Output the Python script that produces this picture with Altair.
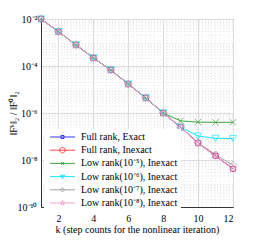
import math
import altair as alt
import pandas as pd

# ---------------- data ----------------
k = [1, 2, 3, 4, 5, 6, 7, 8, 9, 10, 11, 12]
full_exact   = [1.0e-2, 2.9e-3, 7.9e-4, 2.2e-4, 6.8e-5, 1.7e-5, 4.4e-6, 1.0e-6, 2.5e-7, 5.3e-8, 1.5e-8, 4.2e-9]
full_inexact = [1.0e-2, 2.9e-3, 7.9e-4, 2.2e-4, 6.8e-5, 1.7e-5, 4.4e-6, 1.0e-6, 2.5e-7, 5.3e-8, 1.5e-8, 4.2e-9]
low_5        = [1.0e-2, 2.9e-3, 7.9e-4, 2.2e-4, 6.8e-5, 1.7e-5, 4.4e-6, 1.0e-6, 4.6e-7, 4.1e-7, 4.0e-7, 4.0e-7]
low_6        = [1.0e-2, 2.9e-3, 7.9e-4, 2.2e-4, 6.8e-5, 1.7e-5, 4.4e-6, 1.0e-6, 2.5e-7, 1.05e-7, 8.3e-8, 8.2e-8]
low_7        = [1.0e-2, 2.9e-3, 7.9e-4, 2.2e-4, 6.8e-5, 1.7e-5, 4.4e-6, 1.0e-6, 2.5e-7, 5.4e-8, 1.7e-8, 6.0e-9]
low_8        = [1.0e-2, 2.9e-3, 7.9e-4, 2.2e-4, 6.8e-5, 1.7e-5, 4.4e-6, 1.0e-6, 2.5e-7, 5.3e-8, 1.5e-8, 4.3e-9]

series_names = [
    "Full rank, Exact",
    "Full rank, Inexact",
    "Low rank(10⁻⁵), Inexact",
    "Low rank(10⁻⁶), Inexact",
    "Low rank(10⁻⁷), Inexact",
    "Low rank(10⁻⁸), Inexact",
]
series_values = [full_exact, full_inexact, low_5, low_6, low_7, low_8]
series_colors = ["#1f1fff", "#ff3030", "#2e9a2e", "#00e5ff", "#9a9a9a", "#ff99cc"]

y_ticks = [1e-10, 1e-8, 1e-6, 1e-4, 1e-2]
y_tick_labels = ["10⁻¹⁰", "10⁻⁸", "10⁻⁶", "10⁻⁴", "10⁻²"]
x_ticks = [2, 4, 6, 8, 10, 12]

# ---------------- marker shapes (unit box -1..1) ----------------
def star_pts(R, r_in, cx=0.0):
    pts = []
    for i in range(10):
        r = R if i % 2 == 0 else R * r_in
        a = math.radians(-90 + 36 * i)
        pts.append(f"{cx + r*math.cos(a):.3f},{r*math.sin(a):.3f}")
    return "M" + "L".join(pts) + "Z"

def marker_paths(s, cx):
    return [
        f"M{cx-s:.3f},{-s}L{cx+s:.3f},{-s}L{cx+s:.3f},{s}L{cx-s:.3f},{s}Z",                  # square
        f"M{cx+s:.3f},0A{s},{s},0,1,1,{cx-s:.3f},0A{s},{s},0,1,1,{cx+s:.3f},0Z",             # circle
        f"M{cx-s:.3f},{-s}L{cx+s:.3f},{s}M{cx-s:.3f},{s}L{cx+s:.3f},{-s}",                   # x
        f"M{cx-s:.3f},{-0.6*s:.3f}L{cx+s:.3f},{-0.6*s:.3f}L{cx:.3f},{s}Z",                   # triangle down
        f"M{cx:.3f},{-s}L{cx+s:.3f},0L{cx:.3f},{s}L{cx-s:.3f},0Z",                           # diamond
        star_pts(s, 0.42, cx),                                                               # star
    ]

series_shapes = ["square", "circle", "M-1,-1L1,1M-1,1L1,-1", "triangle-down", "diamond", star_pts(1, 0.42)]
series_sizes = [24, 70, 24, 45, 40, 55]

# legend symbols: a 25px line starting at the entry's left with the marker at its middle
# (symbol size 16 -> 2px per unit, symbol centre 2px from the entry's left)
legend_scale = [0.6, 1.1, 0.6, 0.9, 0.85, 1.0]
legend_shapes = []
for i, sc in enumerate(legend_scale):
    legend_shapes.append("M-1,0L11.5,0" + marker_paths(round(1.25 * sc, 3), 5.25)[i])

rows = []
for name, vals in zip(series_names, series_values):
    for kk, v in zip(k, vals):
        rows.append({"k": kk, "value": v, "series": name, "series2": name})
df = pd.DataFrame(rows)

# minor grid
minor_y = [m * 10.0 ** e for e in range(-10, -2) for m in range(2, 10)]
minor_x = [1 + 0.25 * i for i in range(1, 44) if (1 + 0.25 * i) % 2 != 0]
df_my = pd.DataFrame({"value": minor_y})
df_mx = pd.DataFrame({"k": minor_x})

FONT = "Liberation Serif"
W, H = 192, 188

xscale = alt.Scale(domain=[1, 12], nice=False)
yscale = alt.Scale(type="log", domain=[1e-10, 1e-2], nice=False)

label_expr = " : ".join(
    f"datum.value < {v*1.5:g} ? '{lab}'" for v, lab in zip(y_ticks, y_tick_labels)
) + " : ''"

x_axis = alt.Axis(values=x_ticks, grid=True, gridColor="#dcdcdc", ticks=False,
                  title="k (step counts for the nonlinear iteration)",
                  labelPadding=6, titleY=22, titleBaseline="middle",
                  titleFontWeight="normal")
y_axis = alt.Axis(values=y_ticks, grid=True, gridColor="#dcdcdc", ticks=False,
                  labelExpr=label_expr, labelPadding=4,
                  title="‖Fᵏ‖₂ / ‖F⁰‖₂", titleX=-33, titleBaseline="top",
                  titleFontWeight="normal")

grid_y = alt.Chart(df_my).mark_rule(color="#dedede", strokeDash=[1, 2], strokeWidth=0.7).encode(
    y=alt.Y("value:Q", scale=yscale, axis=y_axis)
)
grid_x = alt.Chart(df_mx).mark_rule(color="#dedede", strokeDash=[1, 2], strokeWidth=0.7).encode(
    x=alt.X("k:Q", scale=xscale, axis=x_axis)
)

base = alt.Chart(df).encode(
    x=alt.X("k:Q", scale=xscale, axis=x_axis),
    y=alt.Y("value:Q", scale=yscale, axis=y_axis),
)

cscale = alt.Scale(domain=series_names, range=series_colors)

lines = base.mark_line(strokeWidth=0.9).encode(
    color=alt.Color("series:N", scale=cscale, legend=None),
)
points = base.mark_point(filled=False, strokeWidth=0.9).encode(
    color=alt.Color("series:N", scale=cscale, legend=None),
    shape=alt.Shape("series:N", scale=alt.Scale(domain=series_names, range=series_shapes), legend=None),
    size=alt.Size("series:N", scale=alt.Scale(domain=series_names, range=series_sizes), legend=None),
)

LX, LY = 3, 110
leg = dict(orient="none", legendX=LX, legendY=LY, offset=0, title=None,
           fillColor="white", padding=3, rowPadding=3.2, symbolSize=16,
           symbolStrokeWidth=0.9, symbolFillColor="transparent",
           symbolOpacity=1, labelOffset=24,
           labelFont=FONT, labelFontSize=10, labelColor="black")
legend_layer = base.mark_point(filled=False, opacity=0).encode(
    color=alt.Color("series2:N", scale=cscale, legend=alt.Legend(**leg)),
    shape=alt.Shape("series2:N", scale=alt.Scale(domain=series_names, range=legend_shapes),
                    legend=alt.Legend(**leg)),
)

chart = alt.layer(grid_y, grid_x, lines, points, legend_layer).resolve_scale(
    color="independent", shape="independent"
).properties(
    width=W, height=H,
    autosize=alt.AutoSizeParams(type="none"),
    padding={"left": 33, "top": 11, "right": 17, "bottom": 30},
).configure_view(stroke="#333333", strokeWidth=1).configure_axis(
    labelFont=FONT, titleFont=FONT, labelFontSize=10, titleFontSize=10,
    labelColor="black", titleColor="black", domainColor="#333333",
)

chart.save("out.html", embed_options={"renderer": "svg", "actions": False})
